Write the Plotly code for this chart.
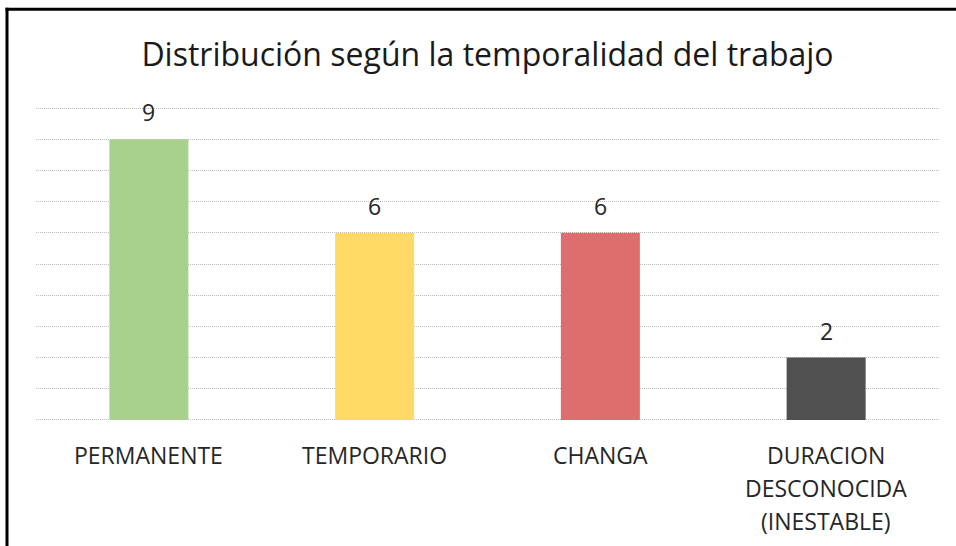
import plotly.graph_objects as go

categories = ["PERMANENTE", "TEMPORARIO", "CHANGA", "DURACION<br>DESCONOCIDA<br>(INESTABLE)"]
values = [9, 6, 6, 2]
colors = ["#A9D18E", "#FFD966", "#DE6E6E", "#505050"]
title_text = "Distribución según la temporalidad del trabajo"

FONT = "Open Sans"
W, H = 956, 546
L, R = 36, 17
Y0_PX, Y10_PX = 420, 108
pad = 0.1
unit = (Y0_PX - Y10_PX) / 10
T = Y10_PX - pad * unit
B = H - (Y0_PX + pad * unit)
plot_h = H - T - B
plot_w = W - L - R


def px_x(px):
    return (px - L) / plot_w


def px_y(py):
    return (H - B - py) / plot_h


fig = go.Figure()
fig.add_trace(go.Bar(
    x=list(range(len(categories))), y=values,
    marker=dict(color=colors, line=dict(width=0)),
    width=0.35, hoverinfo="skip",
))

annotations = []
for i, (c, v) in enumerate(zip(categories, values)):
    annotations.append(dict(x=i, y=v, xref="x", yref="y", text=str(v), showarrow=False,
                            yanchor="middle", yshift=27,
                            font=dict(family=FONT, size=23, color="#262626")))
    for j, line in enumerate(c.split("<br>")):
        annotations.append(dict(x=i, y=0, xref="x", yref="y", text=line, showarrow=False,
                                yanchor="middle", yshift=-35 - 33 * j,
                                font=dict(family=FONT, size=23, color="#262626")))

fig.update_layout(
    width=W, height=H,
    margin=dict(l=L, r=R, t=T, b=B, pad=0),
    paper_bgcolor="white", plot_bgcolor="white",
    showlegend=False,
    title=dict(text=title_text, x=0.5, xref="paper", xanchor="center",
               y=1 - 55 / H, yref="container", yanchor="middle",
               font=dict(family=FONT, size=32, color="#1a1a1a")),
    xaxis=dict(range=[-0.5, len(categories) - 0.5], showticklabels=False,
               showgrid=False, zeroline=False, showline=False, ticks=""),
    yaxis=dict(range=[-pad, 10 + pad], tickvals=list(range(0, 11)), showticklabels=False,
               zeroline=False, showgrid=True, gridcolor="#BDBDBD", griddash="1px,1px",
               gridwidth=1, showline=False, ticks=""),
    annotations=annotations,
    shapes=[
        dict(type="line", xref="paper", yref="paper",
             x0=px_x(5.5), x1=px_x(960), y0=px_y(9), y1=px_y(9),
             line=dict(color="black", width=3)),
        dict(type="line", xref="paper", yref="paper",
             x0=px_x(7), x1=px_x(7), y0=px_y(7.5), y1=px_y(560),
             line=dict(color="black", width=3)),
    ],
)
fig.write_html("out.html", config={"displayModeBar": False},
               post_script="document.body.style.margin='0';document.body.style.overflow='hidden';")
